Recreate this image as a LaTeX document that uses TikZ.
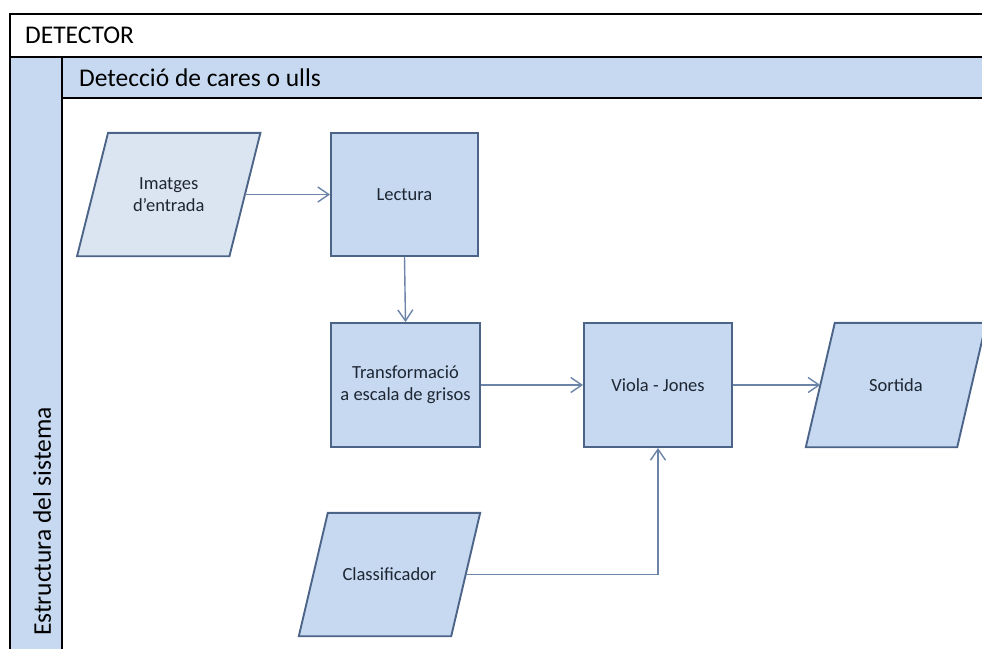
\documentclass[tikz,border=0pt]{standalone}
\usepackage{fontspec}
\setmainfont{Carlito}
\usetikzlibrary{arrows.meta,backgrounds}
\definecolor{bandblue}{HTML}{C6D9F1}
\definecolor{boxblue}{HTML}{C6D9F1}
\definecolor{paleblue}{HTML}{DBE5F1}
\definecolor{edgeblue}{HTML}{4C6488}
\definecolor{linkblue}{HTML}{6B84A8}
\definecolor{labelink}{HTML}{1E2633}
\tikzset{
  boxfont/.style={font=\fontsize{18.5}{22}\selectfont, text=labelink},
  procbox/.style={draw=edgeblue, line width=1.9pt, fill=boxblue, rectangle,
    minimum width=148pt, minimum height=123pt, inner sep=0pt, align=center, boxfont},
  % body of a data (parallelogram) symbol; the outline is drawn behind it
  iobox/.style={rectangle, minimum width=152pt, minimum height=123pt,
    inner sep=0pt, align=center, boxfont},
  ioshape/.style={draw=edgeblue, line width=1.9pt, fill=boxblue, line join=miter},
  link/.style={draw=linkblue, line width=1.4pt,
    -{Straight Barb[length=11pt,width=15pt,line width=1.4pt]}},
  frameline/.style={draw=black, line width=1.8pt},
  headtext/.style={font=\fontsize{25.5}{30}\selectfont, text=black, inner sep=0pt}
}
% parallelogram around a node: #1 style, #2 node name, #3 half of the slant
\newcommand{\ioframe}[3]{%
  \begin{pgfonlayer}{background}
  \filldraw[ioshape,#1] ([xshift=#3]#2.north west) -- ([xshift=#3]#2.north east)
    -- ([xshift=-#3]#2.south east) -- ([xshift=-#3]#2.south west) -- cycle;
  \end{pgfonlayer}}
\begin{document}
\begin{tikzpicture}[x=1pt,y=-1pt]
\useasboundingbox (0,0) rectangle (982,648);
\clip (0,0) rectangle (982,648);
% swimlane frame
\fill[bandblue] (10,57) rectangle (990,98);
\fill[bandblue] (10,57) rectangle (62,660);
\draw[frameline] (10,660) -- (10,14) -- (990,14);
\draw[frameline] (10,57) -- (990,57);
\draw[frameline] (62,57) -- (62,660);
\draw[frameline] (62,98) -- (990,98);
\node[headtext, anchor=west] (title) at (25,35.5) {DETECTOR};
\node[headtext, anchor=west] (lane) at (79,77.5) {Detecció de cares o ulls};
\node[headtext, anchor=west, rotate=90] (pool) at (42,636) {Estructura del sistema};
% flow
\node[iobox] (input) at (168.75,194.5) {Imatges\\d’entrada};
\ioframe{fill=paleblue}{input}{15.5pt}
\node[procbox, minimum width=147pt] (read) at (404.5,194.5) {Lectura};
\node[procbox, minimum width=149pt, minimum height=124pt] (gray) at (405.5,385) {Transformació\\a escala de grisos};
\node[procbox, minimum height=124pt] (vj) at (658,385) {Viola - Jones};
\node[iobox, minimum width=151pt, minimum height=124pt] (out) at (896,385) {Sortida};
\ioframe{}{out}{14.5pt}
\node[iobox] (cls) at (389.5,574.5) {Classificador};
\ioframe{}{cls}{14.5pt}
\draw[link] (input.east) -- (read.west);
\draw[link] (read.south) -- (gray.north);
\draw[link] (gray.east) -- (vj.west);
\draw[link] (vj.east) -- (out.west);
\draw[link] (cls.east) -| (vj.south);
\end{tikzpicture}
\end{document}
